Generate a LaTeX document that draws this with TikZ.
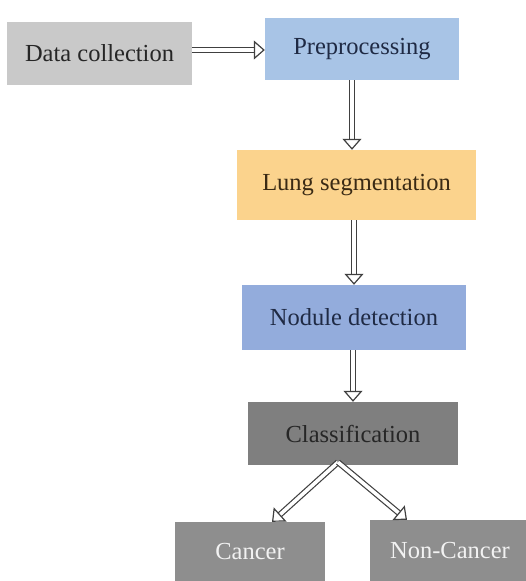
\documentclass[tikz,border=0pt]{standalone}
\usepackage{fontspec}
\setmainfont{Liberation Serif}
\usepackage{tikz}
\usetikzlibrary{arrows.meta}
\definecolor{box_gray}{HTML}{C9C9C9}
\definecolor{box_blue}{HTML}{A8C4E6}
\definecolor{box_orange}{HTML}{FBD38D}
\definecolor{box_nodule}{HTML}{93ACDC}
\definecolor{box_dark}{HTML}{7F7F7F}
\definecolor{box_out}{HTML}{8E8E8E}
\definecolor{txt_navy}{HTML}{1F2A44}
\definecolor{txt_brown}{HTML}{3A2A14}

\begin{document}
\begin{tikzpicture}[x=1pt, y=-1pt,
    stage/.style={inner sep=0pt, font=\rmfamily\fontsize{24.5}{28}\selectfont},
    flow/.style={double=white, double distance=3.6pt, line width=1.2pt, draw=black!75,
        -{Triangle[open, length=11pt, width=19pt, line width=1.2pt]}}]
            \clip (0, 0) rectangle (526, 581);
            \fill[white] (0, 0) rectangle (526, 581);

            \node[stage, fill=box_gray, minimum width=185pt, minimum height=63pt, text=black!85] (data) at (99.5, 53.5) {Data collection};
            \node[stage, fill=box_blue, minimum width=194pt, minimum height=62pt, text=txt_navy] (prep) at (362, 49) {Preprocessing};
            \node[stage, fill=box_orange, minimum width=239pt, minimum height=70pt, text=txt_brown] (lung) at (356.5, 185) {Lung segmentation};
            \node[stage, fill=box_nodule, minimum width=224pt, minimum height=65pt, text=txt_navy] (nodule) at (354, 317.5) {Nodule detection};
            \node[stage, fill=box_dark, minimum width=210pt, minimum height=63pt, text=black!85] (classif) at (353, 433.5) {Classification};
            \node[stage, fill=box_out, minimum width=150pt, minimum height=60pt, text=white!90!gray] (cancer) at (250, 552) {Cancer};
            \node[stage, fill=box_out, minimum width=160pt, minimum height=62pt, text=white!90!gray] (noncancer) at (450, 551) {Non-Cancer};

            % arrows between the stages
            \draw[flow] ([yshift=3.5pt]data.east) -- ([yshift=-1pt]prep.west);
            \draw[flow] ([xshift=-10pt]prep.south) -- ([xshift=-4.5pt]lung.north);
            \draw[flow] ([xshift=-2.5pt]lung.south) -- (nodule.north);
            \draw[flow] ([xshift=-1pt]nodule.south) -- (classif.north);
            \draw[flow] ([xshift=-15pt, yshift=3pt]classif.south) -- ([xshift=22pt]cancer.north);
            \draw[flow] ([xshift=-15pt, yshift=3pt]classif.south) -- ([xshift=-43pt]noncancer.north);

        \end{tikzpicture}
\end{document}
